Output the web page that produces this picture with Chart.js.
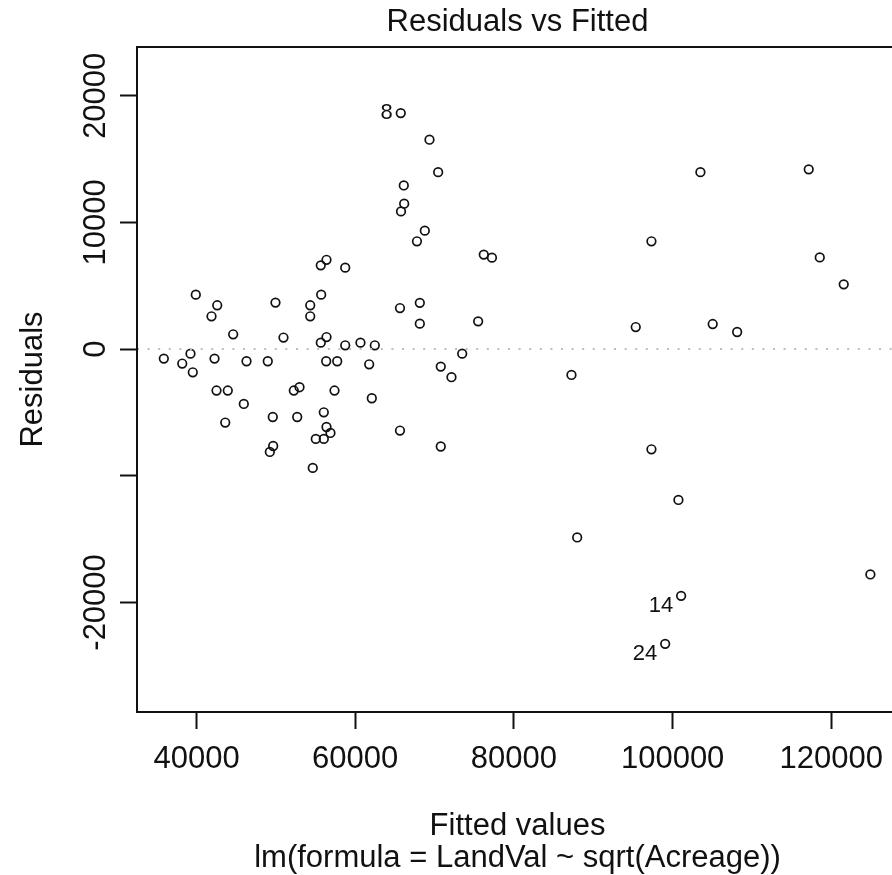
<!DOCTYPE html>
<html>
<head>
<meta charset="utf-8">
<script src="https://cdn.jsdelivr.net/npm/chart.js@4/dist/chart.umd.min.js"></script>
<style>
  html, body { margin: 0; padding: 0; background: #fff; overflow: hidden; }
  #wrap { width: 906px; height: 875px; }
</style>
</head>
<body>
<div id="wrap"><canvas id="residChart" width="906" height="875"></canvas></div>
<script>
// fitted values and residuals
const fitted = [65740, 69360, 70450, 66120, 66170, 65770, 68770, 67780, 56380, 55660,
    58740, 76200, 77230, 97330, 103500, 117150, 118540, 121560, 105050, 108130,
    39910, 42610, 41890, 49950, 55710, 54330, 54330, 65640, 68140, 68140,
    44620, 50960, 56380, 55660, 58740, 60660, 62470, 39240, 35880, 38200,
    39530, 42270, 46300, 48980, 56340, 57730, 61760, 42520, 43940, 45960,
    52260, 52980, 57390, 62090, 43620, 49610, 52690, 56040, 56380, 56880,
    55030, 56040, 65640, 49660, 49240, 54650, 75490, 95350, 73480, 70780,
    72130, 87250, 70780, 97330, 100730, 87970, 124920, 101070, 99060];
const residuals = [18630, 16530, 13970, 12920, 11480, 10870, 9350, 8510, 7050, 6610,
    6430, 7460, 7220, 8510, 13970, 14190, 7240, 5110, 1980, 1350,
    4300, 3460, 2590, 3670, 4300, 3460, 2590, 3240, 3650, 2010,
    1170, 910, 950, 510, 300, 510, 300, -360, -750, -1140,
    -1830, -750, -960, -960, -960, -960, -1200, -3270, -3270, -4330,
    -3270, -3010, -3270, -3880, -5800, -5360, -5360, -4990, -6150, -6620,
    -7090, -7090, -6430, -7650, -8120, -9380, 2190, 1740, -360, -1380,
    -2220, -2040, -7690, -7910, -11910, -14870, -17790, -19480, -23270];

// labelled observations (index into the arrays above)
const idIndex = [0, 77, 78];
const idLabel = ['8', '14', '24'];

const xTicks = [40000, 60000, 80000, 100000, 120000];
const yTicks = [-20000, -10000, 0, 10000, 20000];
const yTickLabels = ['-20000', '', '0', '10000', '20000'];

const xRange = [32500, 128400];
const yRange = [-28650, 23850];

const FONT = "'Liberation Sans', Arial, sans-serif";

const points = fitted.map((f, i) => ({x: f, y: residuals[i]}));
const zeroLine = [{x: xRange[0], y: 0}, {x: xRange[1], y: 0}];

// box round the plot region, like R's box()
const frame = {
    id: 'frame',
    afterDraw(chart) {
        const a = chart.chartArea, ctx = chart.ctx;
        ctx.save();
        ctx.strokeStyle = '#111';
        ctx.lineWidth = 2;
        ctx.strokeRect(a.left, a.top, a.right - a.left, a.bottom - a.top);
        ctx.restore();
    }
};

// point id labels to the left of the marks
const idLabels = {
    id: 'idLabels',
    afterDatasetsDraw(chart) {
        const ctx = chart.ctx;
        const xs = chart.scales.x, ys = chart.scales.y;
        ctx.save();
        ctx.font = '22px ' + FONT;
        ctx.fillStyle = '#111';
        ctx.textAlign = 'right';
        ctx.textBaseline = 'middle';
        idIndex.forEach((k, i) => {
            const px = xs.getPixelForValue(fitted[k]);
            const py = ys.getPixelForValue(residuals[k]);
            ctx.fillText(idLabel[i], px - 8, py + (i === 0 ? 0 : 10));
        });
        ctx.restore();
    }
};

new Chart(document.getElementById('residChart'), {
    type: 'scatter',
    data: {
        datasets: [{
            data: zeroLine,
            type: 'line',
            showLine: true,
            borderColor: '#bdbdbd',
            borderWidth: 2,
            borderDash: [2, 8.6],
            pointRadius: 0,
            fill: false
        }, {
            data: points,
            pointStyle: 'circle',
            pointRadius: 4.3,
            pointBorderWidth: 1.7,
            borderColor: '#111',
            backgroundColor: 'rgba(0,0,0,0)'
        }]
    },
    options: {
        responsive: false,
        animation: false,
        layout: { padding: { left: 0, right: 8, top: 0, bottom: 0 } },
        plugins: {
            legend: { display: false },
            tooltip: { enabled: false },
            title: {
                display: true,
                text: 'Residuals vs Fitted',
                fullSize: false,
                color: '#111',
                font: { family: FONT, size: 31, weight: 'normal', lineHeight: '32px' },
                padding: { top: 6, bottom: 9 }
            }
        },
        scales: {
            x: {
                type: 'linear',
                position: 'bottom',
                min: xRange[0],
                max: xRange[1],
                afterBuildTicks: s => { s.ticks = xTicks.map(v => ({value: v})); },
                afterFit: s => { s.height = 163; },
                border: { display: false },
                grid: {
                    drawOnChartArea: false,
                    drawTicks: true,
                    tickLength: 17,
                    tickWidth: 2,
                    tickColor: '#111'
                },
                ticks: {
                    autoSkip: false,
                    maxRotation: 0,
                    padding: 12,
                    color: '#111',
                    font: { family: FONT, size: 31, lineHeight: 1.2 },
                    callback: v => String(v)
                },
                title: {
                    display: true,
                    text: ['Fitted values', 'lm(formula = LandVal ~ sqrt(Acreage))'],
                    color: '#111',
                    font: { family: FONT, size: 31, lineHeight: '32px' },
                    padding: { top: 0, bottom: 1 }
                }
            },
            y: {
                type: 'linear',
                position: 'left',
                min: yRange[0],
                max: yRange[1],
                afterBuildTicks: s => { s.ticks = yTicks.map(v => ({value: v})); },
                afterFit: s => { s.width = 137; },
                border: { display: false },
                grid: {
                    drawOnChartArea: false,
                    drawTicks: true,
                    tickLength: 17,
                    tickWidth: 2,
                    tickColor: '#111'
                },
                ticks: {
                    autoSkip: false,
                    minRotation: 90,
                    maxRotation: 90,
                    crossAlign: 'center',
                    padding: -25,
                    color: '#111',
                    font: { family: FONT, size: 31, lineHeight: 1.2 },
                    callback: (v, i) => yTickLabels[yTicks.indexOf(v)]
                },
                title: {
                    display: true,
                    text: 'Residuals',
                    color: '#111',
                    font: { family: FONT, size: 31, lineHeight: '32px' },
                    padding: { top: 17, bottom: 0 }
                }
            }
        }
    },
    plugins: [frame, idLabels]
});
</script>
</body>
</html>
